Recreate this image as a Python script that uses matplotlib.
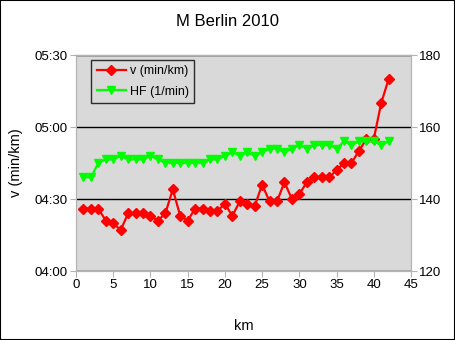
import matplotlib.pyplot as plt
import numpy as np
from matplotlib.ticker import FuncFormatter

plt.rcParams['font.family'] = ['Liberation Sans', 'DejaVu Sans']

# split times per km (m:ss) and heart rate per km
km = list(range(1, 43))
pace = ['4:26', '4:26', '4:26', '4:21', '4:20', '4:17', '4:24', '4:24', '4:24', '4:23',
        '4:21', '4:24', '4:34', '4:23', '4:21', '4:26', '4:26', '4:25', '4:25', '4:28',
        '4:23', '4:29', '4:28', '4:27', '4:36', '4:29', '4:29', '4:37', '4:30', '4:32',
        '4:37', '4:39', '4:39', '4:39', '4:42', '4:45', '4:45', '4:50', '4:55', '4:55',
        '5:10', '5:20']
hf = [146, 146, 150, 151, 151, 152, 151, 151, 151, 152,
      151, 150, 150, 150, 150, 150, 150, 151, 151, 152,
      153, 152, 153, 152, 153, 154, 154, 153, 154, 155,
      154, 155, 155, 155, 154, 156, 155, 156, 156, 156,
      155, 156]


def to_min(s):
    m, sec = s.split(':')
    return int(m) + int(sec) / 60.0


v = np.array([to_min(p) for p in pace])

fig = plt.figure(figsize=(4.55, 3.4), dpi=100)
ax = fig.add_axes([76 / 455, 69 / 340, 335 / 455, 216 / 340])
ax2 = ax.twinx()

grey = '#b3b3b3'
ax.set_facecolor('#d9d9d9')
ax.set_xlim(0, 45)
ax.set_ylim(4.0, 5.5)
ax.set_yticks([4.0, 4.5, 5.0, 5.5])
ax.set_xticks(range(0, 46, 5))
ax.yaxis.set_major_formatter(FuncFormatter(
    lambda y, _: '%02d:%02d' % (int(y), round((y - int(y)) * 60))))
ax.grid(axis='y', color='black', linewidth=1)
ax.set_axisbelow(True)

ax2.set_ylim(120, 180)
ax2.set_yticks([120, 140, 160, 180])

for a in (ax, ax2):
    for sp in a.spines.values():
        sp.set_color(grey)
    a.tick_params(direction='out', color=grey, length=4, labelsize=9.5, pad=2)
ax.spines['top'].set_color('black')

l1, = ax.plot(km, v, color='#ff0000', lw=1.6, marker='D', ms=4.8,
              label='v (min/km)', zorder=3)
l2, = ax2.plot(km, hf, color='#00ff00', lw=1.6, marker='v', ms=6,
               label='HF (1/min)', zorder=3)

leg = ax.legend(handles=[l1, l2], loc='upper left', bbox_to_anchor=(0.046, 0.978),
                frameon=True, fancybox=False, fontsize=9, handlelength=2.3,
                borderpad=0.45, labelspacing=0.65, handletextpad=0.3,
                borderaxespad=0)
leg.get_frame().set_edgecolor('black')
leg.get_frame().set_facecolor('#d9d9d9')
leg.get_frame().set_linewidth(1)
leg.set_zorder(5)

ax.set_xlabel('km', fontsize=10.5, labelpad=20)
ax.set_ylabel('v (min/km)', fontsize=10.5, labelpad=8)
fig.text(0.5, 1 - 22 / 340, 'M Berlin 2010', ha='center', va='center', fontsize=12)

fig.patches.append(plt.Rectangle((0, 0), 1, 1, transform=fig.transFigure,
                                 fill=False, edgecolor='black', linewidth=1.5))

fig.savefig('out.png', dpi=100)
